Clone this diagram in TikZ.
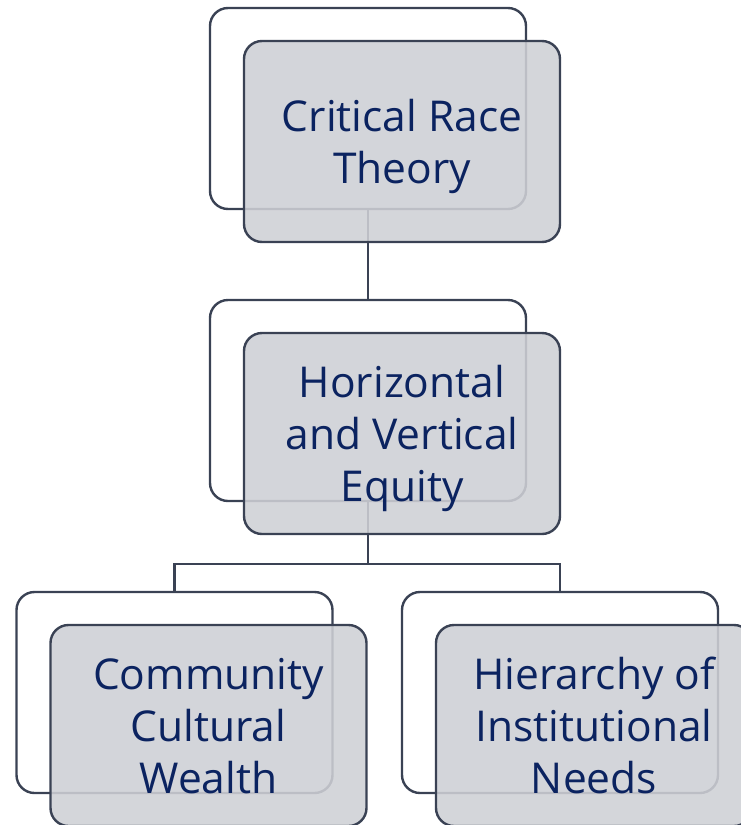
\documentclass[tikz,border=0pt]{standalone}
\usepackage{fontspec}
\setmainfont{Open Sans}
\usepackage{tikz}
\usetikzlibrary{positioning}
\definecolor{edgegray}{HTML}{3A4254}
\definecolor{boxgray}{HTML}{CED0D5}
\definecolor{navy}{HTML}{0B2360}
\tikzset{
  backbox/.style={draw=edgegray, line width=2.4pt, fill=white, rounded corners=18pt,
    minimum width=316pt, minimum height=201pt},
  frontbox/.style={draw=edgegray, line width=2.4pt, fill=boxgray, fill opacity=0.88,
    text opacity=1, rounded corners=18pt, minimum width=316pt, minimum height=201pt,
    align=center, text=navy, text depth=0pt, font=\fontsize{42.5}{52}\selectfont},
  link/.style={draw=edgegray, line width=2.4pt}
}

\begin{document}
\begin{tikzpicture}[x=1pt,y=1pt]
\newcommand\DX{34pt}
\newcommand\DY{-33pt}
\useasboundingbox (0,0) rectangle (740,-825);

% back boxes
\node[backbox] (crtB) at (368,-108.5) {};
\node[backbox] (hveB) at (368,-400.5) {};
\node[backbox] (ccwB) at (174.5,-692.5) {};
\node[backbox] (hinB) at (560,-692.5) {};

% links
\draw[link] (crtB.south) -- (hveB.north);
\draw[link] (hveB.south) -- ++(0,-62) -| (ccwB.north);
\draw[link] (hveB.south) -- ++(0,-62) -| (hinB.north);

% front boxes
\node[frontbox] (crtF) at ([shift={(\DX,\DY)}]crtB.center) {Critical Race\\Theory};
\node[frontbox] (hveF) at ([shift={(\DX,\DY)}]hveB.center) {Horizontal\\and Vertical\\Equity};
\node[frontbox] (ccwF) at ([shift={(\DX,\DY)}]ccwB.center) {Community\\Cultural\\Wealth};
\node[frontbox] (hinF) at ([shift={(\DX,\DY)}]hinB.center) {Hierarchy of\\Institutional\\Needs};
\end{tikzpicture}
\end{document}
